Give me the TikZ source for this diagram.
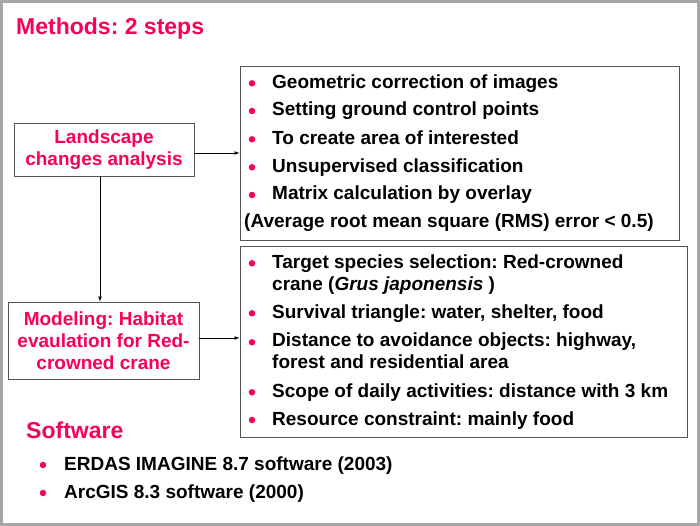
\documentclass[tikz,border=0pt]{standalone}
\usepackage{fontspec}
\setmainfont{Liberation Sans}
\frenchspacing
\usepackage{tikz}
\usetikzlibrary{arrows,calc,positioning,shadows}
\definecolor{slidered}{RGB}{250,0,90}
\definecolor{boxgray}{RGB}{85,85,85}
\definecolor{framegray}{RGB}{166,166,166}

\begin{document}
\begin{tikzpicture}[
    x=1pt, y=-1pt,
    nosep/.style={inner sep=0},
    heading/.style={nosep, anchor=base west, text=slidered, font=\fontsize{23}{27}\selectfont\bfseries},
    stepbox/.style={draw=boxgray, fill=white, line width=0.9pt, text=slidered, align=center,
        font=\fontsize{19}{22}\selectfont\bfseries},
    listbox/.style={draw=boxgray, fill=white, line width=0.9pt,
        drop shadow={shadow xshift=1pt, shadow yshift=-1pt, fill=black!30, opacity=1}},
    item/.style={nosep, anchor=base west, align=left, font=\fontsize{19}{22}\selectfont\bfseries},
    dot/.style={circle, nosep, fill=slidered, minimum size=6.5pt},
    link/.style={draw, -latex, line width=0.7pt}]
\useasboundingbox (0,0) rectangle (700,526);
\path[draw=framegray, line width=3pt] (1.5,1.5) rectangle (698.5,524.5);

\node[heading] (methods) at (16,35) {Methods: 2 steps};

\node[stepbox, minimum width=180pt, minimum height=53pt] (landscape) at (104,149.5) {Landscape\\changes analysis};
\node[stepbox, minimum width=191pt, minimum height=77pt] (modeling) at (103.5,340.5) {Modeling: Habitat\\evaulation for Red-\\crowned crane};

\node[listbox, minimum width=439pt, minimum height=174pt] (imagery) at (459.5,153) {};
\node[listbox, minimum width=447pt, minimum height=191pt] (habitat) at (463.5,341.5) {};

\node[dot] (imagery-1) at (252,83.3) {};
\node[item] (geometric) at (272,88.3) {Geometric correction of images};
\node[dot] (imagery-2) at (252,111) {};
\node[item] (control) at (272,116) {Setting ground control points};
\node[dot] (imagery-3) at (252,139.3) {};
\node[item] (interest) at (272,144.3) {To create area of interested};
\node[dot] (imagery-4) at (252,167.3) {};
\node[item] (unsupervised) at (272,172.3) {Unsupervised classification};
\node[dot] (imagery-5) at (252,195) {};
\node[item] (overlay) at (272,200) {Matrix calculation by overlay};
\node[item] (rms) at (244,228) {(Average root mean square (RMS) error < 0.5)};

\node[dot] (habitat-1) at (252,263.3) {};
\node[item] (target) at (272,290) {Target species selection: Red-crowned\\crane (\textit{Grus japonensis} )};
\node[dot] (habitat-2) at (252,313.3) {};
\node[item] (survival) at (272,318.3) {Survival triangle: water, shelter, food};
\node[dot] (habitat-3) at (252,342.3) {};
\node[item] (avoidance) at (272,368.3) {Distance to avoidance objects: highway,\\forest and residential area};
\node[dot] (habitat-4) at (252,392.3) {};
\node[item] (scope) at (272,397.3) {Scope of daily activities: distance with 3 km};
\node[dot] (habitat-5) at (252,420) {};
\node[item] (resource) at (272,425) {Resource constraint: mainly food};

\node[heading] (software) at (26,438.3) {Software};
\node[dot] (software-1) at (43,465) {};
\node[item] (erdas) at (64,470) {ERDAS IMAGINE 8.7 software (2003)};
\node[dot] (software-2) at (43,493) {};
\node[item] (arcgis) at (64,498) {ArcGIS 8.3 software (2000)};

\path[link] (imagery.west -| landscape.east) -- (imagery.west);
\path[link] ([xshift=-4pt]landscape.south) -- ([xshift=-4pt]landscape.south |- modeling.north);
\path[link] ([yshift=2.5pt]modeling.east) -- ([yshift=2.5pt]modeling.east -| habitat.west);



\end{tikzpicture}
\end{document}
